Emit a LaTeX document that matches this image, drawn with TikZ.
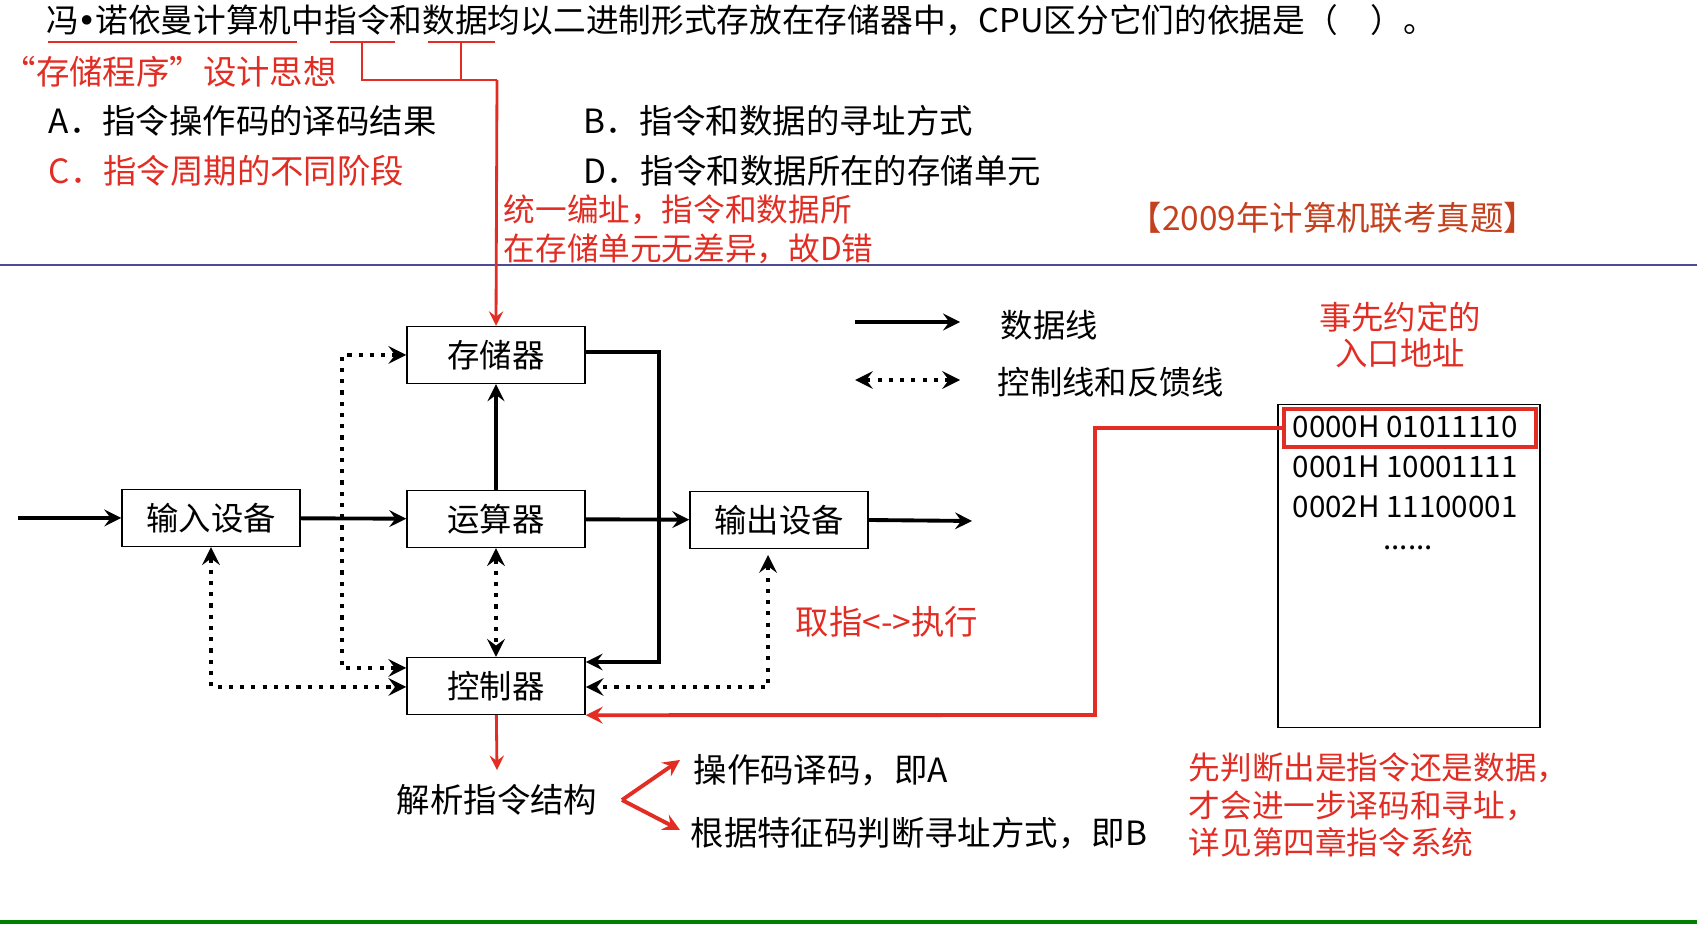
\documentclass[tikz,border=0pt]{standalone}
\usepackage{fontspec}
\setmainfont{Noto Sans CJK SC}
\newfontfamily\latinf{DejaVu Sans}
\usetikzlibrary{arrows,positioning,calc}
\definecolor{hlred}{RGB}{225,45,35}
\definecolor{srcred}{RGB}{195,65,30}
\begin{document}
\begin{tikzpicture}[x=0.01cm, y=-0.01cm]

% Define styles
\tikzstyle{unit} = [rectangle, draw=black, minimum width=1.78cm, minimum height=0.57cm, font=\fontsize{9.2}{10}\selectfont, inner sep=0pt]
\tikzstyle{datal} = [line width=1.1pt, ->, >=stealth]
\tikzstyle{ctrll} = [line width=1.2pt, dotted, <->, >=stealth]
\tikzstyle{note} = [anchor=west, inner sep=0pt, font=\fontsize{9.5}{11}\selectfont]
\tikzstyle{rednote} = [note, text=hlred]
\tikzstyle{redl} = [draw=hlred, line width=0.8pt]

\useasboundingbox (0,0) rectangle (1697,925);

% Question text
\node (title) [note, font=\fontsize{9.3}{11}\selectfont] at (46,20) {冯{\latinf\kern-0.05em•\kern-0.05em}诺依曼计算机中指令和数据均以二进制形式存放在存储器中，CPU区分它们的依据是（\quad ）。};
\draw [redl] (48,42) -- (297,42) (330,42) -- (395,42) (428,42) -- (495,42);
\coordinate (ul1) at (362,42);
\coordinate (ul2) at (461,42);
\coordinate (br) at (497,80);
\draw [redl] (ul1) |- (br) (ul2) -- (461,80);
\node (idea) [rednote] at (2,72) {“存储程序”设计思想};
\node (optA) [note] at (48,121) {A．指令操作码的译码结果};
\node (optB) [note] at (583,121) {B．指令和数据的寻址方式};
\node (optC) [rednote] at (48,171) {C．指令周期的不同阶段};
\node (optD) [note] at (583,171) {D．指令和数据所在的存储单元};
\node (whyD) [rednote, align=left, font=\fontsize{9}{11}\selectfont] at (503,229) {统一编址，指令和数据所\\在存储单元无差异，故D错};
\node (src) [note, text=srcred] at (1128,218) {【2009年计算机联考真题】};
\draw [color=black!30!blue!40!gray, line width=0.5pt] (0,265) -- (1697,265);

% Units
\node (mem) [unit] at (496,355) {存储器};
\node (inp) [unit] at (211,518) {输入设备};
\node (alu) [unit] at (496,519) {运算器};
\node (outp) [unit] at (779,520) {输出设备};
\node (ctl) [unit] at (496,686) {控制器};
\coordinate (src_in) at (18,518);
\coordinate (dst_out) at (972,521);

% Data lines
\draw [datal] (src_in) -- (inp);
\draw [datal] (inp) -- (alu);
\draw [datal] (alu) -- (mem);
\draw [datal] (alu) -- (outp);
\draw [datal] (outp.east) -- (dst_out);
\draw [datal] (mem.east |- 0,352) -| (659,662) -- (ctl.east |- 0,662);

% Control lines
\draw [ctrll] (ctl.west |- 0,668) -| (342,355) -- (mem.west |- 0,355);
\draw [ctrll] (alu) -- (ctl);
\draw [ctrll] (inp.south) |- (ctl.west |- 0,687);
\draw [ctrll] (768,555) |- (ctl.east |- 0,687);
\draw [redl, ->, >=stealth] (br) -- (mem.north);

% Legend
\coordinate (lg1a) at (855,322); \coordinate (lg1b) at (960,322);
\coordinate (lg2a) at (855,380); \coordinate (lg2b) at (960,380);
\draw [datal] (lg1a) -- (lg1b);
\draw [ctrll] (lg2a) -- (lg2b);
\node (lgd) [note, font=\fontsize{9.2}{10}\selectfont] at (1000,325) {数据线};
\node (lgc) [note, font=\fontsize{9.2}{10}\selectfont] at (997,382) {控制线和反馈线};

% Memory contents
\node (entry) [rednote, anchor=center, align=center, font=\fontsize{9.2}{10.5}\selectfont] at (1400,335) {事先约定的\\入口地址};
\node (membox) [draw=black, minimum width=2.62cm, minimum height=3.23cm, inner sep=0pt] at (1409,566) {};
\node (w0) [note, font=\fontsize{8.4}{9}\selectfont] at (1292,427) {0000H 01011110};
\node (w1) [note, font=\fontsize{8.4}{9}\selectfont] at (1292,467) {0001H 10001111};
\node (w2) [note, font=\fontsize{8.4}{9}\selectfont] at (1292,507) {0002H 11100001};
\node (dots) [note, anchor=center, font=\fontsize{8.4}{9}\selectfont] at (1408,548) {......};
\node (w0box) [draw=hlred, line width=1.2pt, minimum width=2.52cm, minimum height=0.38cm, inner sep=0pt] at (1410,428) {};
\draw [redl, line width=1.1pt, ->, >=stealth] (w0box.west) -| (1095,715) -- (ctl.south east);
\node (fetch) [rednote] at (795,622) {取指<->执行};

% Decoding
\node (parse) [note, anchor=center] at (497,800) {解析指令结构};
\draw [redl, ->, >=stealth] (ctl) -- (parse.north |- 0,770);
\coordinate (fork) at (622,800);
\node (opA) [note] at (693,770) {操作码译码，即A};
\node (opB) [note] at (690,833) {根据特征码判断寻址方式，即B};
\draw [redl, line width=1.1pt, ->, >=stealth] (fork) -- (680,760);
\draw [redl, line width=1.1pt, ->, >=stealth] (fork) -- (680,830);
\node (hint) [rednote, align=left, font=\fontsize{9}{10.6}\selectfont] at (1188,805) {先判断出是指令还是数据，\\才会进一步译码和寻址，\\详见第四章指令系统};
\draw [color=green!50!black, line width=1pt] (0,922) -- (1697,922);

\end{tikzpicture}
\end{document}
